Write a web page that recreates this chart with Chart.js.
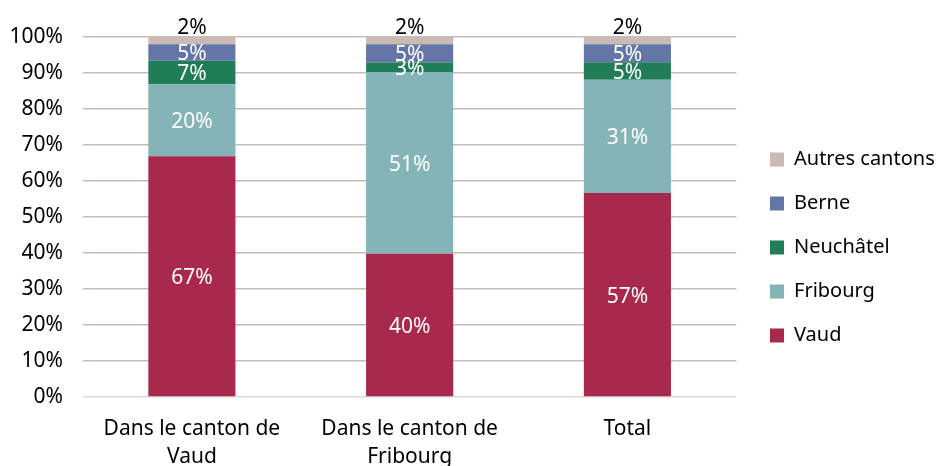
<!DOCTYPE html>
<html>
<head>
<meta charset="utf-8">
<script src="https://cdn.jsdelivr.net/npm/chart.js@4"></script>
<style>
  html, body { margin: 0; padding: 0; background: #fff; }
  #wrap { width: 937px; height: 466px; }
</style>
</head>
<body>
<div id="wrap"><canvas id="chart" width="937" height="466"></canvas></div>
<script>
// categories
let categories = [["Dans le canton de", "Vaud"], ["Dans le canton de", "Fribourg"], "Total"];

// shares in %
let vaud = [66.9, 39.8, 56.7];
let fribourg = [20.0, 50.5, 31.4];
let neuchatel = [6.5, 2.6, 4.9];
let berne = [4.6, 5.1, 5.0];
let autres = [2.0, 2.0, 2.0];

let yTicks = [0, 10, 20, 30, 40, 50, 60, 70, 80, 90, 100];

const fontFamily = "'Noto Sans', sans-serif";

// white labels inside the segments, black one on top for the last series
const segmentLabels = {
  id: 'segmentLabels',
  afterDatasetsDraw(chart) {
    let ctx = chart.ctx;
    ctx.save();
    ctx.font = "21px " + fontFamily;
    ctx.textAlign = 'center';
    chart.data.datasets.forEach((ds, di) => {
      let meta = chart.getDatasetMeta(di);
      meta.data.forEach((bar, i) => {
        let txt = Math.round(ds.data[i]) + '%';
        if (di === chart.data.datasets.length - 1) {
          ctx.fillStyle = '#000';
          ctx.textBaseline = 'alphabetic';
          ctx.fillText(txt, bar.x, bar.y - 3);
        } else {
          ctx.fillStyle = '#fff';
          ctx.textBaseline = 'middle';
          ctx.fillText(txt, bar.x, (bar.y + bar.base) / 2 + 2);
        }
      });
    });
    ctx.restore();
  }
};

// nudge the legend to sit where it is in the original
const legendShift = {
  id: 'legendShift',
  afterLayout(chart) {
    let lg = chart.legend;
    let dx = 770 - (lg.left + lg.options.labels.padding);
    lg.left += dx; lg.right += dx;
    lg.top -= 4; lg.bottom -= 4;
  }
};

window.onload = () => {
  let ctx = document.getElementById("chart").getContext('2d');

  let myChart = new Chart(ctx, {
    type: 'bar',
    data: {
      labels: categories,
      datasets: [
        { label: 'Vaud', data: vaud, backgroundColor: '#A8294D' },
        { label: 'Fribourg', data: fribourg, backgroundColor: '#84B4B8' },
        { label: 'Neuchâtel', data: neuchatel, backgroundColor: '#207D57' },
        { label: 'Berne', data: berne, backgroundColor: '#6475A7' },
        { label: 'Autres cantons', data: autres, backgroundColor: '#CABAB2' }
      ]
    },
    options: {
      responsive: false,
      animation: false,
      layout: { padding: { top: 37, left: 0, right: 2, bottom: 0 } },
      datasets: { bar: { categoryPercentage: 1, barPercentage: 0.4 } },
      plugins: {
        legend: {
          position: 'right',
          reverse: true,
          maxWidth: 202,
          labels: {
            boxWidth: 14,
            boxHeight: 14,
            padding: 24,
            color: '#000',
            font: { family: fontFamily, size: 20 }
          }
        },
        tooltip: { enabled: false }
      },
      scales: {
        x: {
          stacked: true,
          grid: { display: false },
          border: { display: false },
          afterFit(axis) { axis.height = 69; },
          ticks: { color: '#000', font: { family: fontFamily, size: 21, lineHeight: 1.33 }, maxRotation: 0, padding: 10 }
        },
        y: {
          stacked: true,
          min: 0,
          max: 100,
          afterBuildTicks(axis) { axis.ticks = yTicks.map(v => ({ value: v })); },
          afterFit(axis) { axis.width = 83; },
          border: { display: false },
          grid: {
            drawTicks: false,
            color: (c) => c.tick && c.tick.value === 0 ? '#D9D9D9' : '#CBBBB4',
            lineWidth: 1.5
          },
          ticks: {
            color: '#000',
            padding: 20,
            font: { family: fontFamily, size: 21 },
            callback: (v) => v + '%'
          }
        }
      }
    },
    plugins: [segmentLabels, legendShift]
  });
};
</script>
</body>
</html>
